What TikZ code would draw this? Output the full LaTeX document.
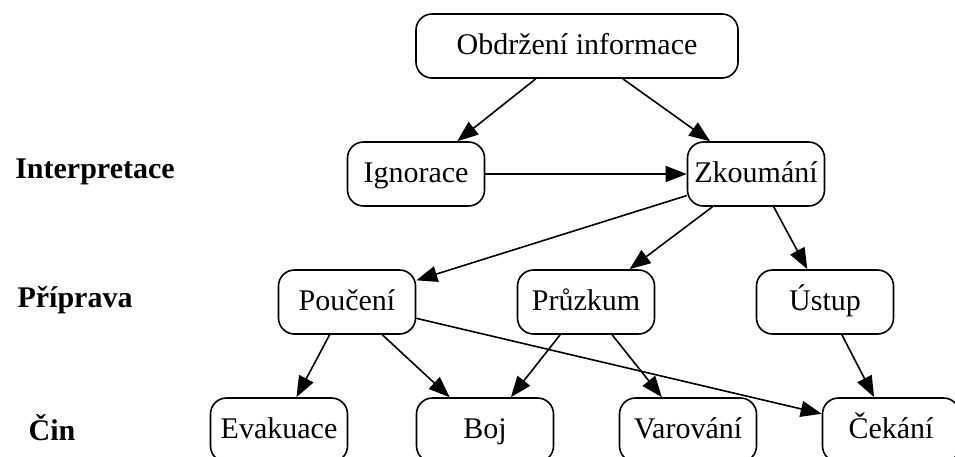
\documentclass[tikz,border=0pt]{standalone}
\usepackage{fontspec}
\setmainfont{Liberation Serif}
\usetikzlibrary{arrows.meta}

\begin{document}
\begin{tikzpicture}[x=1pt,y=-1pt,
  stage/.style={draw,line width=1.6pt,rounded corners=16pt,minimum width=137pt,minimum height=64pt,inner sep=0pt,text height=22pt,text depth=6pt,font=\fontsize{30}{34}\selectfont},
  level/.style={font=\fontsize{30}{34}\selectfont\bfseries},
  edge/.style={line width=1.6pt,-{Triangle[length=21pt,width=16pt]}}]
\useasboundingbox (0,0) rectangle (955,456);
% stupne
\node[level] (interp) at (95,172) {Interpretace};
\node[level] (prip) at (75,300) {Příprava};
\node[level] (cin) at (52,428) {Čin};
% uzly
\node[stage,minimum width=322pt] (obdrz) at (577,46) {Obdržení informace};
\node[stage] (ignor) at (416,174) {Ignorace};
\node[stage] (zkoum) at (756,174) {Zkoumání};
\node[stage] (pouc) at (347,302) {Poučení};
\node[stage] (pruzk) at (586,302) {Průzkum};
\node[stage] (ustup) at (825,302) {Ústup};
\node[stage] (evak) at (279,430) {Evakuace};
\node[stage] (boj) at (485,430) {Boj};
\node[stage] (varov) at (688,430) {Varování};
\node[stage] (cekani) at (891,430) {Čekání};
% hrany
\draw[edge] (obdrz) -- (ignor);
\draw[edge] (obdrz) -- (zkoum);
\draw[edge] (ignor) -- (zkoum);
\draw[edge] (zkoum) -- (pouc);
\draw[edge] (zkoum) -- (pruzk);
\draw[edge] (zkoum) -- (ustup);
\draw[edge] (pouc) -- (evak);
\draw[edge] (pouc) -- (boj);
\draw[edge] (pouc) -- (cekani);
\draw[edge] (pruzk) -- (boj);
\draw[edge] (pruzk) -- (varov);
\draw[edge] (ustup) -- (cekani);
\end{tikzpicture}
\end{document}
